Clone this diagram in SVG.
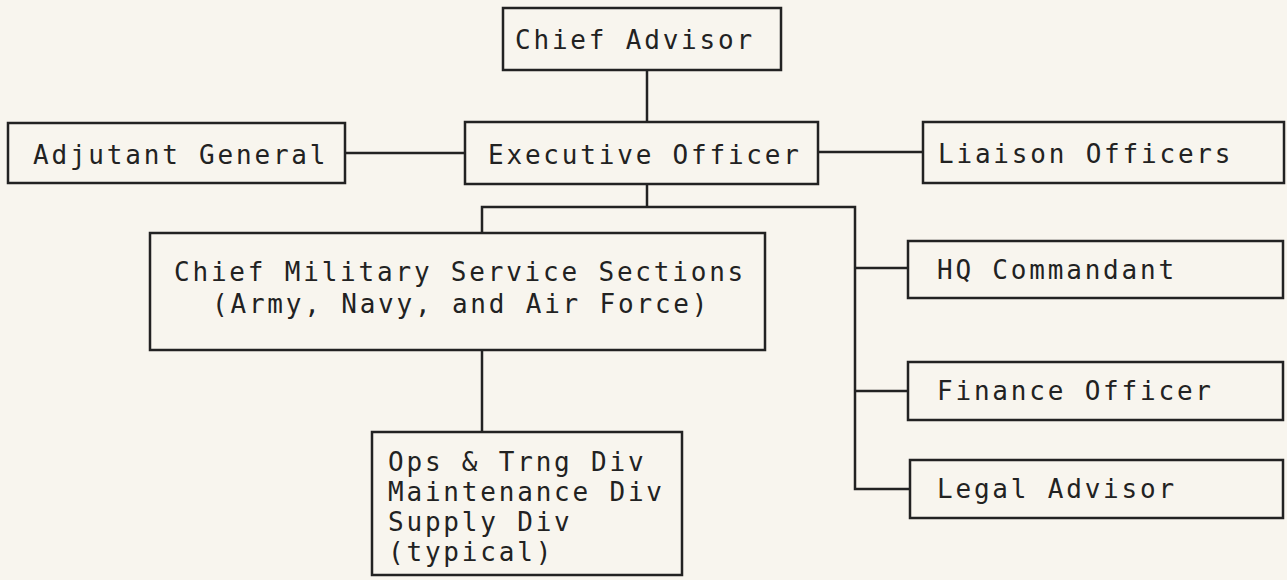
<svg xmlns="http://www.w3.org/2000/svg" width="1287" height="580" viewBox="0 0 1287 580">
<style>
.box{fill:none;stroke:#222;stroke-width:2.5}
.ln{fill:none;stroke:#222;stroke-width:2.5}
text{font-family:"DejaVu Sans Mono","Liberation Mono",monospace;font-size:26px;letter-spacing:2.8px;fill:#222}
</style>
<rect width="1287" height="580" fill="#f8f5ee"/>
<g id="connectors">
<path class="ln" d="M647 70V122"/>
<path class="ln" d="M345 153H465"/>
<path class="ln" d="M818 152H923"/>
<path class="ln" d="M647 184V207"/>
<path class="ln" d="M482 233V207H855V489H910"/>
<path class="ln" d="M855 268H908"/>
<path class="ln" d="M855 391H908"/>
<path class="ln" d="M482 350V432"/>
</g>
<g id="chief-advisor"><rect class="box" x="503" y="8" width="278" height="62"/><text x="515" y="49">Chief Advisor</text></g>
<g id="executive-officer"><rect class="box" x="465" y="122" width="353" height="62"/><text x="488" y="164">Executive Officer</text></g>
<g id="adjutant-general"><rect class="box" x="8" y="123" width="337" height="60"/><text x="33" y="164">Adjutant General</text></g>
<g id="liaison-officers"><rect class="box" x="923" y="122" width="361" height="61"/><text x="938" y="163">Liaison Officers</text></g>
<g id="chief-military"><rect class="box" x="150" y="233" width="615" height="117"/><text x="174" y="281">Chief Military Service Sections</text><text x="212" y="313">(Army, Navy, and Air Force)</text></g>
<g id="hq-commandant"><rect class="box" x="908" y="241" width="375" height="57"/><text x="937" y="279">HQ Commandant</text></g>
<g id="finance-officer"><rect class="box" x="908" y="362" width="375" height="58"/><text x="937" y="400">Finance Officer</text></g>
<g id="legal-advisor"><rect class="box" x="910" y="460" width="373" height="58"/><text x="937" y="498">Legal Advisor</text></g>
<g id="ops-divisions"><rect class="box" x="372" y="432" width="310" height="143"/><text x="388" y="471">Ops &amp; Trng Div</text><text x="388" y="501">Maintenance Div</text><text x="388" y="531">Supply Div</text><text x="388" y="561">(typical)</text></g>
</svg>
